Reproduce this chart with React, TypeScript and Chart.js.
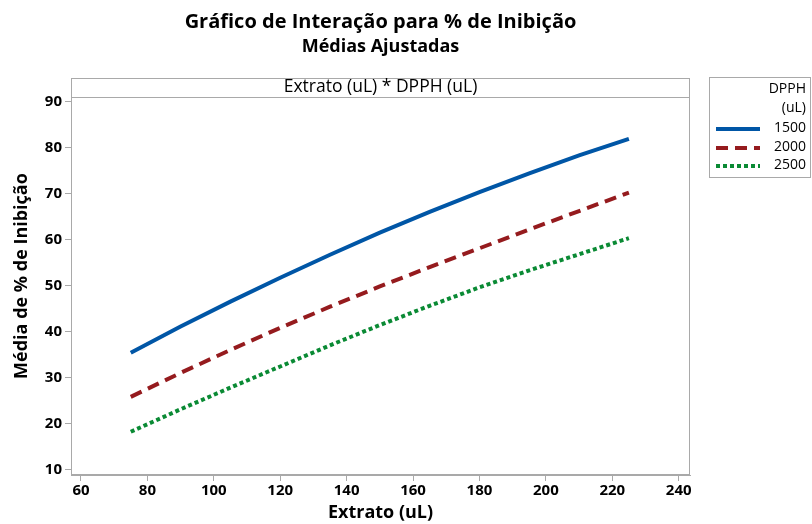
import { useEffect, useRef } from 'react';
import { Chart, registerables } from 'chart.js';

Chart.register(...registerables);

// Adjusted means of % inhibition by extract volume, one series per DPPH volume
const extrato = [75, 90, 105, 120, 135, 150, 165, 180, 195, 210, 225];
const dpph1500 = [35.4, 41.1, 46.5, 51.7, 56.7, 61.5, 66.0, 70.3, 74.4, 78.3, 81.9];
const dpph2000 = [25.8, 31.0, 36.0, 40.8, 45.4, 49.8, 54.0, 58.1, 62.2, 66.2, 70.2];
const dpph2500 = [18.2, 23.1, 27.8, 32.4, 37.0, 41.4, 45.6, 49.6, 53.3, 56.8, 60.3];
const seriesLabels = ['1500', '2000', '2500'];
const xTicks = [60, 80, 100, 120, 140, 160, 180, 200, 220, 240];
const yTicks = [10, 20, 30, 40, 50, 60, 70, 80, 90];

const FONT = '"Open Sans", "Noto Sans", "DejaVu Sans", sans-serif';
const COLORS = ['#0056a6', '#951b1e', '#0a8a34'];
const DASHES: number[][] = [[], [12, 7], [4, 3]];
const FRAME = '#a9a9a9';

const decorations = {
  id: 'decorations',
  afterDraw(chart: Chart) {
    const { ctx, chartArea } = chart;
    const { left, right, top, bottom } = chartArea;
    const cx = (left + right) / 2;
    ctx.save();

    // titles
    ctx.fillStyle = '#000';
    ctx.textAlign = 'center';
    ctx.textBaseline = 'middle';
    ctx.font = `bold 20px ${FONT}`;
    ctx.fillText('Gráfico de Interação para % de Inibição', cx, 22);
    ctx.font = `bold 18px ${FONT}`;
    ctx.fillText('Médias Ajustadas', cx, 47);

    // panel header strip
    ctx.strokeStyle = FRAME;
    ctx.lineWidth = 1;
    ctx.strokeRect(left + 0.5, 78.5, right - left - 1, top - 78);
    ctx.font = `17.5px ${FONT}`;
    ctx.fillText('Extrato (uL) * DPPH (uL)', cx, 87);

    // plot frame
    ctx.strokeRect(left + 0.5, top + 0.5, right - left - 1, bottom - top - 1);

    // axis titles
    ctx.font = `bold 18px ${FONT}`;
    ctx.fillText('Extrato (uL)', cx, 513);
    ctx.save();
    ctx.translate(22, (top + bottom) / 2 - 10);
    ctx.rotate(-Math.PI / 2);
    ctx.fillText('Média de % de Inibição', 0, 0);
    ctx.restore();

    // legend
    const lx = 709;
    const ly = 77;
    ctx.strokeStyle = FRAME;
    ctx.strokeRect(lx + 0.5, ly + 0.5, 101, 100);
    ctx.textAlign = 'right';
    ctx.fillStyle = '#000';
    ctx.font = `14px ${FONT}`;
    ctx.fillText('DPPH', 806, 89);
    ctx.fillText('(uL)', 806, 108);
    const rows = [128, 147, 165];
    seriesLabels.forEach((lab, i) => {
      ctx.fillText(lab, 806, rows[i]);
      ctx.save();
      ctx.strokeStyle = COLORS[i];
      ctx.lineWidth = 4;
      ctx.setLineDash(DASHES[i]);
      ctx.beginPath();
      ctx.moveTo(716, rows[i] + 1);
      ctx.lineTo(760, rows[i] + 1);
      ctx.stroke();
      ctx.restore();
    });

    ctx.restore();
  },
};

export default function App() {
  const ref = useRef<HTMLCanvasElement>(null);

  useEffect(() => {
    if (!ref.current) return;
    const series = [dpph1500, dpph2000, dpph2500];
    const chart = new Chart(ref.current, {
      type: 'scatter',
      data: {
        datasets: series.map((vals, i) => ({
          label: seriesLabels[i],
          data: extrato.map((x, j) => ({ x, y: vals[j] })),
          showLine: true,
          borderColor: COLORS[i],
          backgroundColor: COLORS[i],
          borderWidth: 4,
          borderDash: DASHES[i],
          pointRadius: 0,
          tension: 0,
        })),
      },
      options: {
        animation: false,
        responsive: false,
        layout: { padding: { left: 0, top: 97, right: 122, bottom: 0 } },
        plugins: {
          legend: { display: false },
          title: { display: false },
          tooltip: { enabled: false },
        },
        scales: {
          x: {
            type: 'linear',
            min: 57.0,
            max: 243.4,
            afterFit: (s: any) => {
              s.height = 49;
            },
            afterBuildTicks: (s: any) => {
              s.ticks = xTicks.map((value) => ({ value }));
            },
            grid: {
              drawOnChartArea: false,
              tickLength: 6,
              tickColor: FRAME,
            },
            border: { color: FRAME },
            ticks: {
              padding: 1,
              color: '#000',
              font: { family: FONT, size: 15, weight: 'bold' },
              maxRotation: 0,
              autoSkip: false,
            },
          },
          y: {
            type: 'linear',
            min: 8.8,
            max: 91.0,
            afterFit: (s: any) => {
              s.width = 71;
            },
            afterBuildTicks: (s: any) => {
              s.ticks = yTicks.map((value) => ({ value }));
            },
            grid: {
              drawOnChartArea: false,
              tickLength: 6,
              tickColor: FRAME,
            },
            border: { color: FRAME },
            ticks: {
              padding: 3,
              color: '#000',
              font: { family: FONT, size: 15, weight: 'bold' },
              autoSkip: false,
            },
          },
        },
      },
      plugins: [decorations],
    });
    return () => chart.destroy();
  }, []);

  return (
    <div style={{ position: 'fixed', left: 0, top: 0, width: 812, height: 524, background: '#fff' }}>
      <canvas ref={ref} width={812} height={524} />
    </div>
  );
}
